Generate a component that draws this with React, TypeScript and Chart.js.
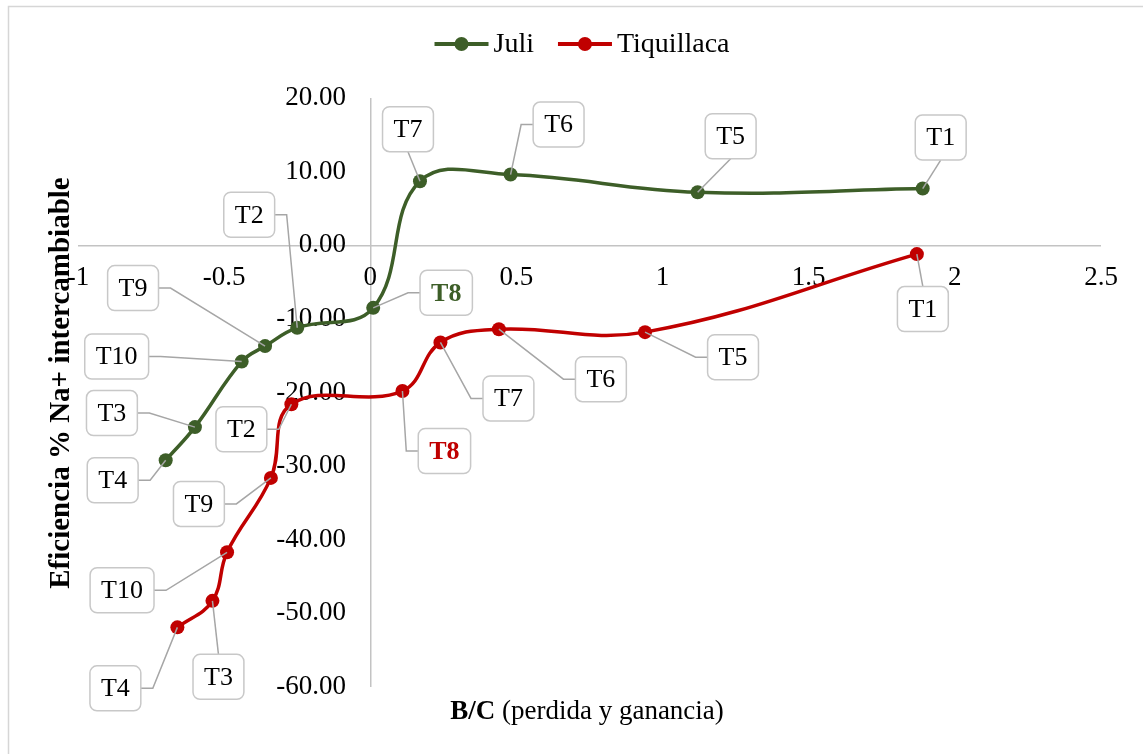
import React, { useEffect, useRef } from "react";
import { Chart, registerables } from "chart.js";

Chart.register(...registerables);

// Treatments, listed in the order the curves pass through them
const treatments = ["T4", "T3", "T10", "T9", "T2", "T8", "T7", "T6", "T5", "T1"];

// Juli: B/C ratio and Na+ efficiency (%)
const juliBC = [-0.7, -0.6, -0.44, -0.36, -0.25, 0.01, 0.17, 0.48, 1.12, 1.89];
const juliEff = [-29.2, -24.7, -15.8, -13.7, -11.2, -8.5, 8.7, 9.6, 7.2, 7.7];

// Tiquillaca: B/C ratio and Na+ efficiency (%)
const tiqBC = [-0.66, -0.54, -0.49, -0.34, -0.27, 0.11, 0.24, 0.44, 0.94, 1.87];
const tiqEff = [-51.9, -48.3, -41.7, -31.6, -21.6, -19.8, -13.2, -11.4, -11.8, -1.2];

// Axis ranges and steps
const xRange = [-1, 2.5];
const xStep = 0.5;
const yRange = [-60, 20];
const yStep = 10;

const GREEN = "#3d5e28";
const RED = "#c00000";
const AXIS = "#c3c3c3";
const SERIF = '"Liberation Serif", "Times New Roman", serif';

// Callout placement: box centre offset (px) from its marker, and whether the
// leader leaves from the box side ("h", with a short elbow) or top/bottom ("v").
type Place = [number, number, "h" | "v"];
const juliCallouts: Place[] = [
  [-53, 20, "h"],
  [-83, -14, "h"],
  [-125, -5, "h"],
  [-132, -58, "h"],
  [-48, -113, "h"],
  [73, -15, "h"],
  [-12, -52, "v"],
  [48, -50, "h"],
  [33, -56, "v"],
  [18, -51, "v"],
];
const tiqCallouts: Place[] = [
  [-62, 61, "h"],
  [6, 76, "v"],
  [-105, 38, "h"],
  [-72, 26, "h"],
  [-50, 25, "h"],
  [42, 60, "h"],
  [68, 56, "h"],
  [102, 50, "h"],
  [88, 25, "h"],
  [6, 55, "v"],
];

const seriesNames = ["Juli", "Tiquillaca"];
const seriesColors = [GREEN, RED];

const framePlugin = {
  id: "frame",
  beforeDraw(chart: any) {
    const ctx = chart.ctx;
    ctx.save();
    ctx.strokeStyle = "#d6d6d6";
    ctx.lineWidth = 1.5;
    ctx.strokeRect(8.5, 6.5, 1400, 1000);
    ctx.restore();
  },
};

const calloutPlugin = {
  id: "callouts",
  afterDatasetsDraw(chart: any) {
    const ctx = chart.ctx;
    ctx.save();
    chart.data.datasets.forEach((ds: any, di: number) => {
      const meta = chart.getDatasetMeta(di);
      const places = di === 0 ? juliCallouts : tiqCallouts;
      meta.data.forEach((pt: any, i: number) => {
        const label = treatments[i];
        const [dx, dy, mode] = places[i];
        const bold = label === "T8";
        ctx.font = `${bold ? "bold " : ""}26px ${SERIF}`;
        const w = ctx.measureText(label).width + 22;
        const h = 45;
        const cx = pt.x + dx;
        const cy = pt.y + dy;
        const left = cx - w / 2;
        const top = cy - h / 2;

        ctx.strokeStyle = "#a6a6a6";
        ctx.lineWidth = 1.5;
        ctx.beginPath();
        if (mode === "v") {
          ctx.moveTo(cx, dy < 0 ? top + h : top);
          ctx.lineTo(pt.x, pt.y);
        } else {
          const sx = dx < 0 ? left + w : left;
          const ex = dx < 0 ? sx + 12 : sx - 12;
          ctx.moveTo(sx, cy);
          ctx.lineTo(ex, cy);
          ctx.lineTo(pt.x, pt.y);
        }
        ctx.stroke();

        ctx.beginPath();
        ctx.roundRect(left, top, w, h, 7);
        ctx.fillStyle = "#ffffff";
        ctx.fill();
        ctx.strokeStyle = "#c8c8c8";
        ctx.lineWidth = 1.5;
        ctx.stroke();

        ctx.fillStyle = bold ? ds.borderColor : "#000000";
        ctx.textAlign = "center";
        ctx.textBaseline = "middle";
        ctx.fillText(label, cx, cy + 1);
      });
    });
    ctx.restore();
  },
};

const titlesPlugin = {
  id: "titles",
  afterDraw(chart: any) {
    const ctx = chart.ctx;
    ctx.save();

    // Legend
    ctx.font = `28px ${SERIF}`;
    ctx.textBaseline = "middle";
    ctx.textAlign = "left";
    const lineLen = 54;
    const gap = 5;
    const spacing = 24;
    const widths = seriesNames.map((n) => ctx.measureText(n).width);
    const total =
      widths.reduce((a, b) => a + b, 0) + seriesNames.length * (lineLen + gap) + spacing;
    let x = 582 - total / 2;
    const ly = 44;
    seriesNames.forEach((name, i) => {
      ctx.strokeStyle = seriesColors[i];
      ctx.lineWidth = 4;
      ctx.beginPath();
      ctx.moveTo(x, ly);
      ctx.lineTo(x + lineLen, ly);
      ctx.stroke();
      ctx.fillStyle = seriesColors[i];
      ctx.beginPath();
      ctx.arc(x + lineLen / 2, ly, 7, 0, Math.PI * 2);
      ctx.fill();
      ctx.fillStyle = "#000";
      ctx.fillText(name, x + lineLen + gap, ly + 1);
      x += lineLen + gap + widths[i] + spacing;
    });

    // X axis title: bold "B/C" followed by plain text
    const boldPart = "B/C";
    const plainPart = " (perdida y ganancia)";
    ctx.font = `bold 27px ${SERIF}`;
    const bw = ctx.measureText(boldPart).width;
    ctx.font = `27px ${SERIF}`;
    const pw = ctx.measureText(plainPart).width;
    const tx = 587 - (bw + pw) / 2;
    ctx.font = `bold 27px ${SERIF}`;
    ctx.fillText(boldPart, tx, 712);
    ctx.font = `27px ${SERIF}`;
    ctx.fillText(plainPart, tx + bw, 712);

    // Y axis title
    ctx.translate(62, 383);
    ctx.rotate(-Math.PI / 2);
    ctx.font = `bold 29px ${SERIF}`;
    ctx.textAlign = "center";
    ctx.fillText("Eficiencia % Na+ intercambiable", 0, 0);

    ctx.restore();
  },
};

export default function App() {
  const canvasRef = useRef<HTMLCanvasElement | null>(null);

  useEffect(() => {
    const canvas = canvasRef.current;
    if (!canvas) return;
    const tickFont = { family: SERIF, size: 27 };
    const zeroLine = (ctx: any) =>
      ctx.tick && ctx.tick.value === 0 ? AXIS : "rgba(0,0,0,0)";

    const chart = new Chart(canvas, {
      type: "line",
      data: {
        datasets: [
          {
            label: seriesNames[0],
            data: juliBC.map((x, i) => ({ x, y: juliEff[i] })),
            borderColor: GREEN,
            backgroundColor: GREEN,
            borderWidth: 3.5,
            pointRadius: 7,
            pointHoverRadius: 7,
            pointBorderWidth: 0,
            tension: 0.4,
          },
          {
            label: seriesNames[1],
            data: tiqBC.map((x, i) => ({ x, y: tiqEff[i] })),
            borderColor: RED,
            backgroundColor: RED,
            borderWidth: 3.5,
            pointRadius: 7,
            pointHoverRadius: 7,
            pointBorderWidth: 0,
            tension: 0.4,
          },
        ],
      },
      options: {
        responsive: false,
        animation: false,
        events: [],
        layout: { padding: { left: 78, right: 42, top: 98, bottom: 67 } },
        plugins: {
          legend: { display: false },
          tooltip: { enabled: false },
        },
        scales: {
          x: {
            type: "linear",
            min: xRange[0],
            max: xRange[1],
            position: { y: 0 } as any,
            border: { display: false },
            grid: { drawTicks: false, color: zeroLine, lineWidth: 1.5 },
            ticks: {
              stepSize: xStep,
              padding: 16,
              color: "#000",
              font: tickFont,
              maxRotation: 0,
              autoSkip: false,
              callback: (v: any) => String(Number(v)),
            },
          },
          y: {
            type: "linear",
            min: yRange[0],
            max: yRange[1],
            position: { x: -0.083 } as any,
            border: { display: false },
            grid: { drawTicks: false, color: zeroLine, lineWidth: 1.5 },
            ticks: {
              stepSize: yStep,
              color: "#000",
              font: tickFont,
              autoSkip: false,
              callback: (v: any) => Number(v).toFixed(2),
            },
          },
        },
      },
      plugins: [framePlugin, calloutPlugin, titlesPlugin],
    });

    return () => chart.destroy();
  }, []);

  return (
    <canvas
      ref={canvasRef}
      width={1143}
      height={754}
      style={{ position: "absolute", left: 0, top: 0, display: "block" }}
    />
  );
}
